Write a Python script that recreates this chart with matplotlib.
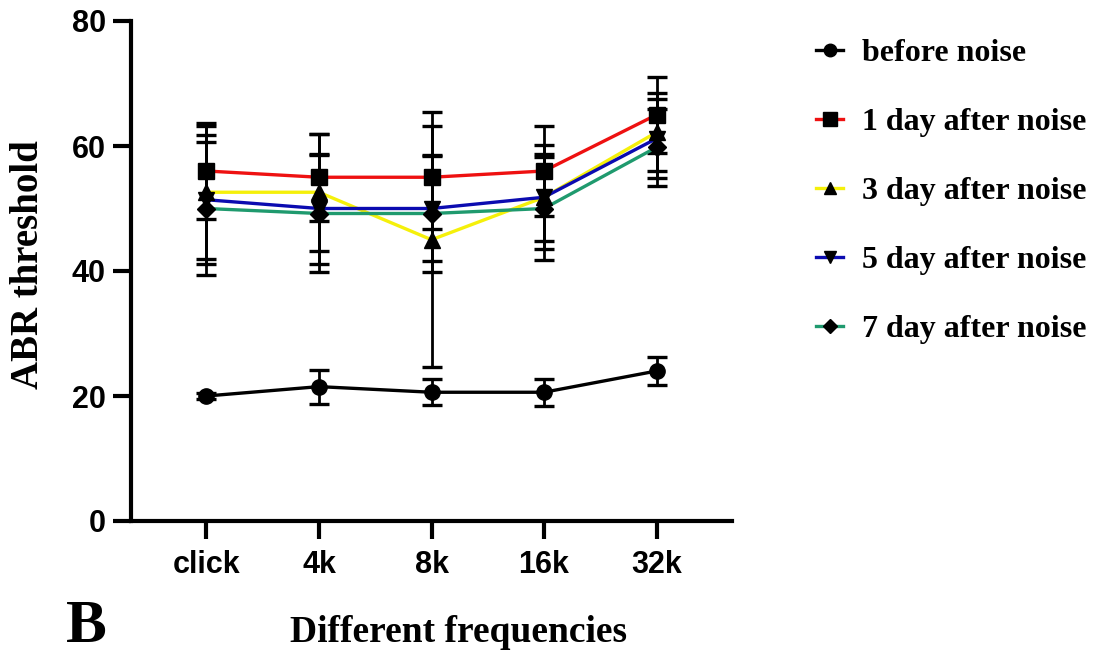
import matplotlib
matplotlib.use("Agg")
import matplotlib.pyplot as plt
from matplotlib.lines import Line2D
import numpy as np

categories = ["click", "4k", "8k", "16k", "32k"]
series_names = ["before noise", "1 day after noise", "3 day after noise",
                "5 day after noise", "7 day after noise"]
before_mean = [20.0, 21.5, 20.6, 20.6, 24.0]
before_err = [0.5, 2.7, 2.1, 2.2, 2.2]
day1_mean = [56.0, 55.0, 55.0, 56.0, 65.0]
day1_err = [7.7, 7.0, 8.2, 7.2, 6.1]
day3_mean = [52.6, 52.6, 45.0, 51.8, 62.2]
day3_err = [10.6, 9.4, 20.4, 8.3, 6.2]
day5_mean = [51.4, 50.0, 50.0, 51.8, 61.2]
day5_err = [10.3, 8.8, 8.4, 7.0, 6.3]
day7_mean = [50.0, 49.2, 49.2, 50.0, 59.8]
day7_err = [10.6, 9.4, 9.4, 8.3, 6.2]

colors = ["black", "#ee1111", "#f5f00a", "#0b0bb0", "#1f9a6e"]
markers = ["o", "s", "^", "v", "D"]
msizes = [11, 11.5, 11, 11, 9]

means = [before_mean, day1_mean, day3_mean, day5_mean, day7_mean]
errs = [before_err, day1_err, day3_err, day5_err, day7_err]

fig = plt.figure(figsize=(10.94, 6.57), dpi=100)
ax = fig.add_axes([131/1094, 1-521/657, (732-131)/1094, 500/657])

x = np.arange(len(categories))
order = [1, 2, 3, 4, 0]
for i in order:
    ax.errorbar(x, means[i], yerr=errs[i], fmt="none", ecolor="black",
                elinewidth=2.0, capsize=7, capthick=2.4, zorder=2)
for i in order:
    ax.plot(x, means[i], color=colors[i], lw=2.4, zorder=3)
for i in order:
    ax.plot(x, means[i], linestyle="none", marker=markers[i], ms=msizes[i],
            color="black", zorder=4)

ax.set_xlim(-0.67, 4.67)
ax.set_ylim(0, 80)
ax.set_yticks([0, 20, 40, 60, 80])
ax.set_xticks(x)
ax.set_xticklabels(categories)
for s in ["top", "right"]:
    ax.spines[s].set_visible(False)
for s in ["left", "bottom"]:
    ax.spines[s].set_linewidth(3)
ax.tick_params(axis="both", width=3, length=13, direction="out")
ax.tick_params(axis="x", pad=8)
ax.tick_params(axis="y", pad=5)
for lab in ax.get_xticklabels() + ax.get_yticklabels():
    lab.set_fontfamily(["Liberation Sans Narrow", "Liberation Sans", "DejaVu Sans"])
    lab.set_fontweight("bold")
    lab.set_fontsize(22)

serif = ["Liberation Serif", "DejaVu Serif"]
fig.text(29/1094, 1-265/657, "ABR threshold", rotation=90, ha="center", va="center",
         family=serif, weight="bold", fontsize=28)
fig.text(458/1094, 1-633/657, "Different frequencies", ha="center", va="center",
         family=serif, weight="bold", fontsize=27)
fig.text(86/1094, 1-627/657, "B", ha="center", va="center",
         family=serif, weight="bold", fontsize=44)

handles = [Line2D([0], [0], color=colors[i], lw=2.4, marker=markers[i],
                  ms=msizes[i] - 2, mfc="black", mec="black") for i in range(5)]
fig.legend(handles, series_names, loc="upper left",
           bbox_to_anchor=(816/1094, 1-39/657), frameon=False, borderpad=0,
           borderaxespad=0, handlelength=0.85, handletextpad=0.6, labelspacing=1.24,
           prop={"family": serif, "weight": "bold", "size": 23})

fig.savefig("out.png", dpi=100)
